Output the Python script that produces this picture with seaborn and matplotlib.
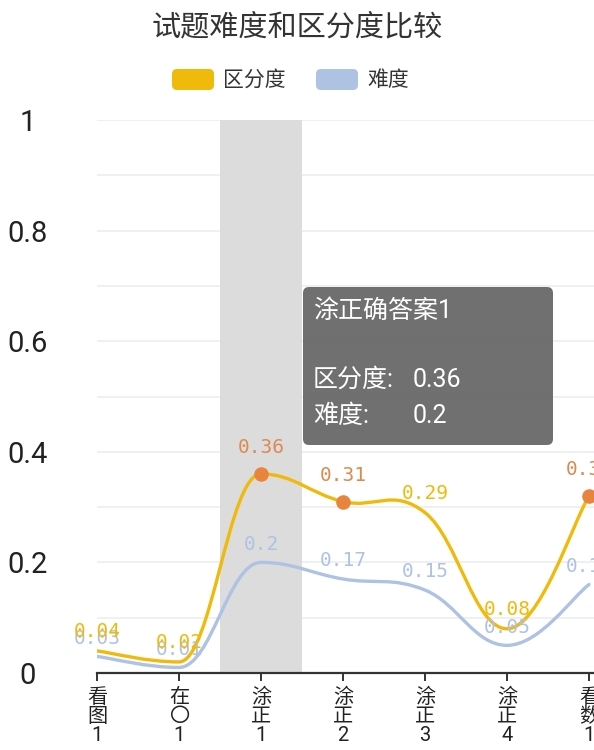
import numpy as np
import pandas as pd
import seaborn as sns
import matplotlib.pyplot as plt
from matplotlib.path import Path
from matplotlib.patches import PathPatch, FancyBboxPatch
from matplotlib.transforms import IdentityTransform

# data
categories = ["看图1", "在〇1", "涂正1", "涂正2", "涂正3", "涂正4", "看数1"]
qufendu = [0.04, 0.02, 0.36, 0.31, 0.29, 0.08, 0.32]   # 区分度
nandu = [0.03, 0.01, 0.20, 0.17, 0.15, 0.05, 0.16]     # 难度
highlight_idx = 2
tooltip_title = "涂正确答案1"
mark_threshold = 0.3

YELLOW = "#f0ba0a"
BLUE = "#aec2e3"
ORANGE = "#e8843c"
ORANGE_TXT = "#dc8a50"

sns.set_theme(style="white")
plt.rcParams["font.family"] = ["Roboto", "Noto Sans CJK SC", "DejaVu Sans"]

W, H = 594, 750
fig = plt.figure(figsize=(W / 100, H / 100), dpi=100)
ax = fig.add_axes([97 / W, 77 / H, (W - 97) / W, 553 / H])
x = np.arange(len(categories))
ax.set_xlim(0, (W - 97) / 82)
ax.set_ylim(0, 1)


def curve_path(xs, ys, a=0.2):
    # curve type line: flat tangent at local peaks/valleys, 0.2 neighbour span elsewhere
    xs = [float(v) for v in xs]
    ys = [float(v) for v in ys]
    n = len(xs)

    def extreme(j):
        if 0 < j < n - 1:
            return ys[j] >= max(ys[j - 1], ys[j + 1]) or ys[j] <= min(ys[j - 1], ys[j + 1])
        return False

    verts = [(xs[0], ys[0])]
    codes = [Path.MOVETO]
    for i in range(n - 1):
        if i < 1:
            ax_, ay_ = xs[0] + (xs[1] - xs[0]) * a, ys[0] + (ys[1] - ys[0]) * a
        else:
            ax_, ay_ = xs[i] + (xs[i + 1] - xs[i - 1]) * a, ys[i] + (ys[i + 1] - ys[i - 1]) * a
        if i > n - 3:
            bx_, by_ = xs[-1] - (xs[-1] - xs[-2]) * a, ys[-1] - (ys[-1] - ys[-2]) * a
        else:
            bx_, by_ = xs[i + 1] - (xs[i + 2] - xs[i]) * a, ys[i + 1] - (ys[i + 2] - ys[i]) * a
        if extreme(i + 1):
            by_ = ys[i + 1]
        if extreme(i):
            ay_ = ys[i]
        verts += [(ax_, ay_), (bx_, by_), (xs[i + 1], ys[i + 1])]
        codes += [Path.CURVE4] * 3
    return Path(verts, codes)


# grid and highlight band
ax.set_yticks(np.arange(0, 1.01, 0.1), minor=True)
ax.set_yticks([0, 0.2, 0.4, 0.6, 0.8, 1.0])
ax.set_yticklabels(["0", "0.2", "0.4", "0.6", "0.8", "1"])
ax.grid(True, axis="y", which="both", color="#ededed", lw=1.2)
ax.grid(False, axis="x")
ax.set_axisbelow(True)
ax.axvspan(highlight_idx - 0.5, highlight_idx + 0.5, color="#dcdcdc", lw=0, zorder=1)

# smooth lines
for vals, col in [(nandu, BLUE), (qufendu, YELLOW)]:
    ax.add_patch(PathPatch(curve_path(x, vals), fill=False, edgecolor=col,
                           lw=2.4, zorder=3, capstyle="round"))

# marked points above threshold
df = pd.DataFrame({"x": x, "v": qufendu})
big = df[df["v"] > mark_threshold]
sns.scatterplot(data=big, x="x", y="v", s=110, color=ORANGE, linewidth=0,
                zorder=4, ax=ax, clip_on=False, legend=False)

# value labels
for i, v in enumerate(nandu):
    ax.annotate(f"{v:g}", (x[i], v), xytext=(0, 13), textcoords="offset points",
                ha="center", va="center", color=BLUE, fontsize=14,
                family="DejaVu Sans Mono", zorder=5, annotation_clip=False)
for i, v in enumerate(qufendu):
    hi = v > mark_threshold
    ax.annotate(f"{v:g}", (x[i], v), xytext=(0, 19 if hi else 14),
                textcoords="offset points", ha="center", va="center",
                color=ORANGE_TXT if hi else YELLOW, fontsize=14,
                family="DejaVu Sans Mono", zorder=6, annotation_clip=False)

# axes styling
for s in ["left", "top", "right"]:
    ax.spines[s].set_visible(False)
ax.spines["bottom"].set_color("#333333")
ax.spines["bottom"].set_linewidth(1.6)
ax.spines["bottom"].set_zorder(7)
ax.set_xticks(x)
ax.set_xticklabels(["\n".join(c) for c in categories], linespacing=1.0)
ax.tick_params(axis="x", length=5.5, width=1.4, color="#333333", pad=5,
               labelsize=14.5, labelcolor="#222222", bottom=True)
ax.tick_params(axis="y", which="both", length=0, pad=50, labelsize=21,
               labelcolor="#222222")
for lab in ax.get_yticklabels():
    lab.set_ha("center")
ax.set_xlabel("")
ax.set_ylabel("")

# title and legend
fig.text(0.5, 1 - 27 / H, "试题难度和区分度比较", ha="center", va="center",
         fontsize=21, color="#333333")
for x0, col, name in [(172, YELLOW, "区分度"), (316, BLUE, "难度")]:
    fig.add_artist(FancyBboxPatch((x0, H - 90), 42, 21, transform=IdentityTransform(),
                                  boxstyle="round,pad=0,rounding_size=5",
                                  facecolor=col, edgecolor="none"))
    fig.text((x0 + 51) / W, 1 - 80 / H, name, ha="left", va="center",
             fontsize=15, color="#333333")

# tooltip
fig.add_artist(FancyBboxPatch((303, H - 445), 250, 158, transform=IdentityTransform(),
                              boxstyle="round,pad=0,rounding_size=6",
                              facecolor="#6b6b6b", edgecolor="none", alpha=0.97,
                              zorder=10))
tip_rows = [(311, tooltip_title, None),
            (380, "区分度:", qufendu[highlight_idx]),
            (416, "难度:", nandu[highlight_idx])]
for y0, name, val in tip_rows:
    fig.text(313 / W, 1 - y0 / H, name, ha="left", va="center",
             fontsize=18, color="white", zorder=11)
    if val is not None:
        fig.text(413 / W, 1 - y0 / H, f"{val:g}", ha="left", va="center",
                 fontsize=18, color="white", zorder=11)

fig.savefig("out.png", dpi=100)
